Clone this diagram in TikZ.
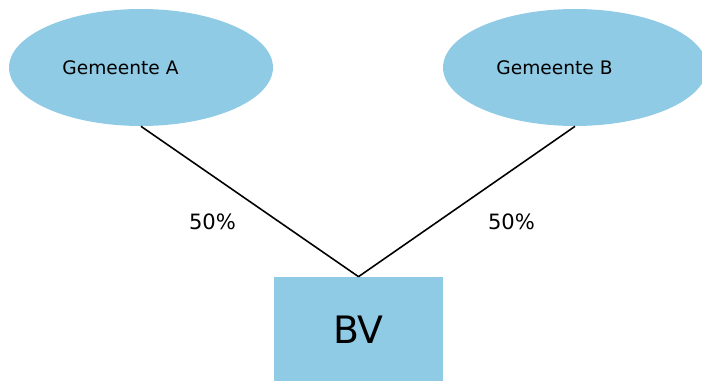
\documentclass[tikz,border=0pt]{standalone}
\usepackage{fontspec}
\setmainfont{DejaVu Sans}
\usetikzlibrary{shapes.geometric}
\definecolor{deelblauw}{RGB}{144,203,230}
\tikzset{
	gemeente/.style={ellipse, fill=deelblauw, minimum width=5.28cm, minimum height=2.34cm, inner sep=0pt},
	bvbox/.style={rectangle, fill=deelblauw, minimum width=3.38cm, minimum height=2.12cm, inner sep=0pt},
	naam/.style={font=\fontsize{10.6}{12}\selectfont, inner sep=0pt},
	aandeel/.style={font=\fontsize{12}{14}\selectfont, inner sep=0pt},
	lijn/.style={line width=0.9pt, black}
}
\begin{document}
\begin{tikzpicture}[x=0.02cm, y=-0.02cm]
		
		\useasboundingbox (0,0) rectangle (702,381);
		\clip (0,0) rectangle (702,381);
		
		\node[gemeente] (gemA) at (141,67.5) {};
		\node[gemeente] (gemB) at (575,67.5) {};
		\node[bvbox] (bv) at (358.5,330) {\fontsize{21.5}{24}\selectfont BV};
		
		\node[naam] (naamA) at (120.5,68) {Gemeente A};
		\node[naam] (naamB) at (554.5,68) {Gemeente B};
		
		\draw[lijn] (gemA.south) -- (bv.north);
		\draw[lijn] (gemB.south) -- (bv.north);
		
		\node[aandeel] (pctA) at (212.5,222) {50\%};
		\node[aandeel] (pctB) at (511.5,222) {50\%};
		
	\end{tikzpicture}
\end{document}
